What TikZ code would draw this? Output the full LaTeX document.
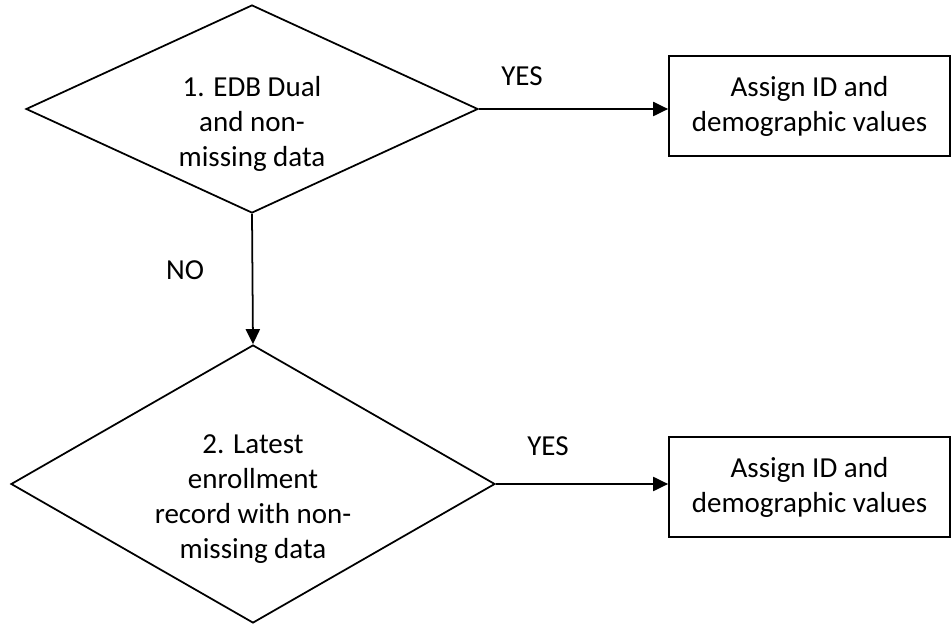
\documentclass[tikz,border=0pt]{standalone}
\usepackage{fontspec}
\setmainfont{Carlito}
\usetikzlibrary{shapes.geometric,arrows.meta}

\begin{document}
\begin{tikzpicture}[
  >={Triangle[length=8.5pt,width=8pt]},
  line width=1pt,
  every node/.style={font=\fontsize{16.5}{20}\selectfont},
  test/.style={draw,diamond,inner sep=0pt,align=center},
  outcome/.style={draw,rectangle,align=center,minimum width=5.62cm,minimum height=2cm}
  ]
\useasboundingbox (0,0) rectangle (19.04,-12.5);
\node [test,aspect=2.17,minimum width=9.04cm,minimum height=4.16cm,
  label={[align=center,yshift=-0.3cm]center:1. EDB Dual\\and non-\\missing data}]
  (edb) at (5.04,-2.18) {};
\node [test,aspect=1.74,minimum width=9.68cm,minimum height=5.56cm,
  label={[align=center,yshift=-0.3cm]center:2. Latest\\enrollment\\record with non-\\missing data}]
  (latest) at (5.06,-9.68) {};
\node [outcome] (assign1) at (16.19,-2.12) {Assign ID and\\demographic values};
\node [outcome] (assign2) at (16.19,-9.74) {Assign ID and\\demographic values};
\draw [->] (edb.east) -- (edb.east -| assign1.west);
\draw [->] (edb.south) -- (latest.north);
\draw [->] (latest.east) -- (latest.east -| assign2.west);
\node (yes1) at (10.44,-1.52) {YES};
\node (no) at (3.7,-5.4) {NO};
\node (yes2) at (10.96,-8.92) {YES};
\end{tikzpicture}
\end{document}
